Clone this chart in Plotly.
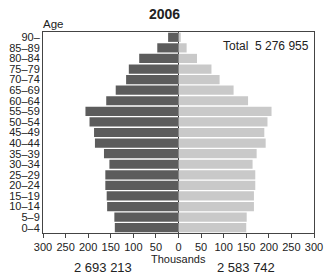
import plotly.graph_objects as go

age_groups = ["0–4", "5–9", "10–14", "15–19", "20–24", "25–29", "30–34", "35–39",
              "40–44", "45–49", "50–54", "55–59", "60–64", "65–69", "70–74",
              "75–79", "80–84", "85–89", "90–"]
left_values = [141, 142, 158, 159, 162, 162, 153, 165, 185, 187, 197, 206,
               160, 139, 116, 110, 87, 47, 23]
right_values = [150, 151, 167, 167, 170, 170, 164, 173, 193, 190, 197, 206,
                154, 122, 91, 73, 41, 18, 5]
x_tick_vals = [-300, -250, -200, -150, -100, -50, 0, 50, 100, 150, 200, 250, 300]
x_tick_text = ["300", "250", "200", "150", "100", "50", "0", "50", "100", "150", "200", "250", "300"]
title_text = "2006"
total_text = "Total  5 276 955"
left_total = "2 693 213"
right_total = "2 583 742"

FONT = "Liberation Sans, Arial, sans-serif"

fig = go.Figure()
fig.add_trace(go.Bar(
    y=age_groups, x=[-v for v in left_values], orientation="h",
    marker=dict(color="#5c5c5c", line=dict(width=0)), showlegend=False,
))
fig.add_trace(go.Bar(
    y=age_groups, x=right_values, orientation="h",
    marker=dict(color="#c9c9c9", line=dict(width=0)), showlegend=False,
))

fig.update_layout(
    template="none",
    width=328, height=274,
    margin=dict(l=43, r=14, t=32, b=41),
    barmode="overlay", bargap=0.13,
    plot_bgcolor="white", paper_bgcolor="white",
    font=dict(family=FONT, size=12, color="#222"),
    xaxis=dict(range=[-300, 300], tickmode="array", tickvals=x_tick_vals, ticktext=x_tick_text,
               tickangle=0, automargin=False,
               ticks="outside", ticklen=4, tickcolor="#444", showgrid=False,
               zeroline=True, zerolinecolor="#333", zerolinewidth=1.2,
               showline=True, linecolor="#444", linewidth=1, mirror=True,
               tickfont=dict(size=11, family=FONT, color="#222")),
    yaxis=dict(type="category", range=[-0.5, 18.5], showgrid=False, automargin=False,
               tickmode="array", tickvals=age_groups, ticktext=age_groups,
               showline=True, linecolor="#444", linewidth=1, mirror=True,
               ticks="", tickfont=dict(size=11, family=FONT, color="#222")),
)

annotations = [
    dict(text="<b>" + title_text + "</b>", x=164, y=14, size=14),
    dict(text="Age", x=53, y=24, size=11.5),
    dict(text=total_text, x=266, y=46, size=12),
    dict(text="Thousands", x=178, y=259, size=11),
    dict(text=left_total, x=103, y=267, size=13),
    dict(text=right_total, x=246, y=267, size=13),
]
for a in annotations:
    fig.add_annotation(
        text=a["text"],
        x=(a["x"] - 43) / (328 - 43 - 14), xref="paper",
        y=(274 - 41 - a["y"]) / (274 - 32 - 41), yref="paper",
        showarrow=False, xanchor="center", yanchor="middle",
        font=dict(size=a["size"], family=FONT, color="#222"),
    )

fig.write_html("out.html", config={"displayModeBar": False},
               post_script="document.body.style.margin='0';")
